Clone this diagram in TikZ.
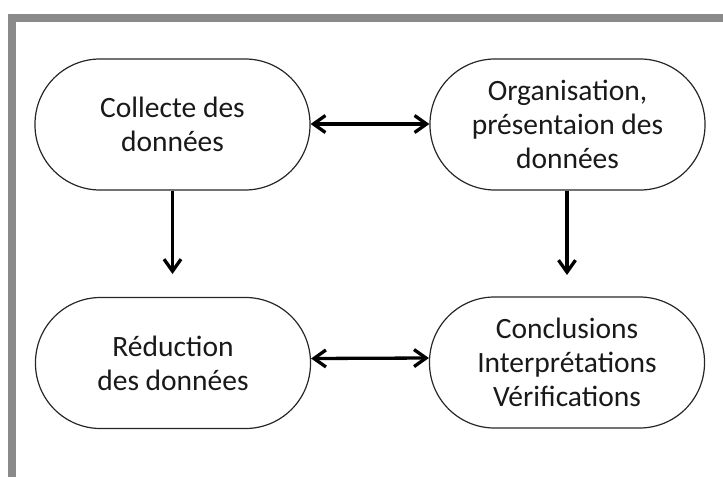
\documentclass[tikz,border=0pt]{standalone}
\usepackage{fontspec}
\setmainfont{Carlito}
\usetikzlibrary{arrows.meta}
\definecolor{framegray}{HTML}{8A8A8A}
\begin{document}
\begin{tikzpicture}[x=1pt,y=-1pt,
  stadium/.style={draw=black!85, line width=1.2pt, rounded corners=65pt,
    minimum width=275pt, minimum height=131pt, inner sep=0pt, align=center,
    font=\fontsize{29.5}{34}\selectfont, text=black!90},
  conn/.style={line width=3.3pt, black},
  >={Straight Barb[length=12pt,width=17pt,line width=3.3pt]}
]
\useasboundingbox (0,0) rectangle (723,477);
\fill[framegray] (7.5,13.5) rectangle (723,22);
\fill[framegray] (7.5,13.5) rectangle (16,477);
\node[stadium] (col) at (172.5,124.5) {Collecte des\\données};
\node[stadium] (org) at (567.5,124.5) {Organisation,\\présentaion des\\données};
\node[stadium] (red) at (173,363) {Réduction\\des données};
\node[stadium] (con) at (567,362.5) {Conclusions\\Interprétations\\Vérifications};
\coordinate (d1) at (172.5,274);
\coordinate (d2) at (567,275);
\draw[conn, <->] ([yshift=0.5pt]col.east) -- ([yshift=0.5pt]org.west);
\draw[conn, <->] ([yshift=4.5pt]red.east) -- ([yshift=4.5pt]con.west);
\draw[conn, ->] (col.south) -- (d1);
\draw[conn, ->] (org.south -| d2) -- (d2);
\end{tikzpicture}
\end{document}
